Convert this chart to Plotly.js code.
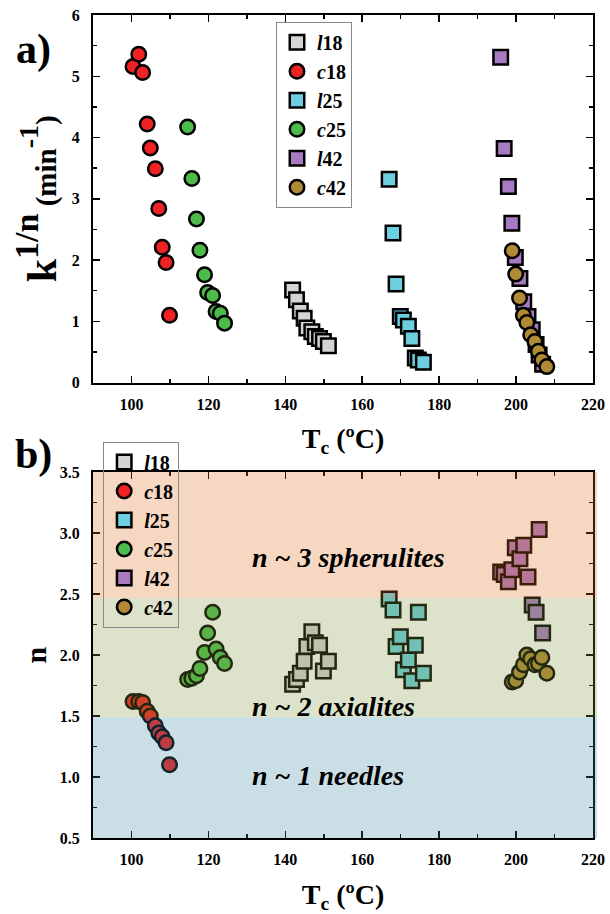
<!DOCTYPE html>
<html>
<head>
<meta charset="utf-8">
<script src="https://cdn.plot.ly/plotly-3.0.1.min.js"></script>
<style>html,body{margin:0;padding:0;background:#fff;}#chart{width:610px;height:914px;}</style>
</head>
<body>
<div id="chart"></div>
<script>
// ---- data ----
const seriesNames = ["<i>l</i>18", "<i>c</i>18", "<i>l</i>25", "<i>c</i>25", "<i>l</i>42", "<i>c</i>42"];

const l18_T = [141.9, 142.9, 143.9, 144.9, 145.6, 146.9, 147.8, 148.9, 149.9, 151.2];
const l18_k = [1.51, 1.35, 1.17, 1.05, 0.89, 0.83, 0.75, 0.72, 0.67, 0.60];
const l18_n = [1.76, 1.80, 1.85, 1.95, 2.07, 2.19, 2.10, 2.08, 1.87, 1.95];

const c18_T = [100.4, 101.9, 102.9, 104.1, 104.9, 106.2, 107.1, 108.0, 109.0, 109.9];
const c18_k = [5.16, 5.36, 5.06, 4.22, 3.83, 3.49, 2.84, 2.21, 1.96, 1.10];
const c18_n = [1.62, 1.62, 1.61, 1.54, 1.50, 1.42, 1.36, 1.33, 1.28, 1.10];

const l25_T = [167.0, 168.0, 168.8, 169.9, 170.7, 172.0, 172.9, 173.8, 174.6, 175.9];
const l25_k = [3.32, 2.44, 1.61, 1.08, 1.02, 0.92, 0.72, 0.40, 0.37, 0.33];
const l25_n = [2.46, 2.37, 2.07, 2.15, 1.88, 1.96, 1.79, 2.08, 2.35, 1.85];

const c25_T = [114.6, 115.7, 116.9, 117.8, 119.0, 119.8, 121.1, 122.0, 123.1, 124.2];
const c25_k = [4.17, 3.33, 2.67, 2.16, 1.76, 1.47, 1.42, 1.16, 1.13, 0.97];
const c25_n = [1.80, 1.81, 1.83, 1.89, 2.02, 2.18, 2.35, 2.05, 1.98, 1.93];

const l42_T = [196.0, 196.9, 198.0, 198.9, 199.8, 201.0, 202.0, 203.1, 204.2, 205.2, 206.0, 206.9];
const l42_k = [5.31, 3.82, 3.20, 2.60, 2.04, 1.70, 1.32, 1.08, 0.86, 0.62, 0.45, 0.30];
const l42_n = [2.68, 2.66, 2.60, 2.70, 2.88, 2.79, 2.90, 2.64, 2.41, 2.35, 3.03, 2.18];

const c42_T = [199.0, 199.9, 200.9, 201.9, 202.8, 203.8, 204.9, 205.8, 206.7, 208.0];
const c42_k = [2.15, 1.77, 1.38, 1.10, 0.98, 0.78, 0.67, 0.51, 0.37, 0.26];
const c42_n = [1.78, 1.79, 1.86, 1.92, 2.00, 1.97, 1.92, 1.93, 1.98, 1.85];

const regionLabels = ["<i>n ~ 3 spherulites</i>", "<i>n ~ 2 axialites</i>", "<i>n ~ 1 needles</i>"];
const regionLabelY = [2.80, 1.575, 1.01];
const regionBounds = [[2.467, 3.5], [1.49, 2.467], [0.5, 1.49]];

// ---- styles ----
const colors = ["#D4D4D4", "#EE2222", "#6CCFE0", "#4DBB4A", "#A77BC2", "#B08A35"];
const symbols = ["square", "circle", "square", "circle", "square", "circle"];
const regionColors = ["rgb(222,110,30)", "rgb(125,150,60)", "rgb(60,138,160)"];
const FONT = "Liberation Serif, Times New Roman, serif";

const Ts = [l18_T, c18_T, l25_T, c25_T, l42_T, c42_T];
const Ks = [l18_k, c18_k, l25_k, c25_k, l42_k, c42_k];
const Ns = [l18_n, c18_n, l25_n, c25_n, l42_n, c42_n];

const traces = [];
for (let i = 0; i < 6; i++) {
  traces.push({
    type: "scatter", mode: "markers", name: seriesNames[i],
    x: Ts[i], y: Ks[i], xaxis: "x2", yaxis: "y2", legend: "legend",
    marker: {symbol: symbols[i], size: 14.5, color: colors[i], line: {color: "#000", width: 2.5}}
  });
}
for (let i = 0; i < 6; i++) {
  traces.push({
    type: "scatter", mode: "markers", name: seriesNames[i],
    x: Ts[i], y: Ns[i], xaxis: "x", yaxis: "y", legend: "legend2",
    marker: {symbol: symbols[i], size: 14.5, color: colors[i], line: {color: "#000", width: 2.5}}
  });
}

const tickFont = {family: FONT, size: 16, color: "#000", weight: "bold"};
function xAxis(anchor, title) {
  return {
    anchor: anchor, range: [90, 220], dtick: 20, tick0: 100,
    ticks: "inside", ticklen: 7, tickwidth: 1.5, tickcolor: "#000",
    minor: {dtick: 10, ticks: "inside", ticklen: 4, tickwidth: 1.5, tickcolor: "#000"},
    showline: true, linecolor: "#000", linewidth: 2, mirror: "allticks",
    showgrid: false, zeroline: false, tickfont: tickFont, ticklabelstandoff: 6,
    title: {text: title, font: {family: FONT, size: 28, color: "#000", weight: "bold"}, standoff: 17}
  };
}

const shapes = [];
const annotations = [];
for (let i = 0; i < 3; i++) {
  shapes.push({type: "rect", xref: "x domain", yref: "y", x0: 0, x1: 1.008,
    y0: regionBounds[i][0], y1: regionBounds[i][1], fillcolor: regionColors[i],
    opacity: 0.27, line: {width: 0}, layer: "above"});
  annotations.push({xref: "x", yref: "y", x: 130.9, y: regionLabelY[i], xanchor: "left", yanchor: "middle",
    text: regionLabels[i], showarrow: false,
    font: {family: FONT, size: 28, color: "#000", weight: "bold"}});
}
annotations.push({xref: "paper", yref: "paper", x: -0.119, y: 0.9575, xanchor: "center", yanchor: "middle",
  text: "a)", showarrow: false, font: {family: FONT, size: 42, color: "#000", weight: "bold"}});
annotations.push({xref: "paper", yref: "paper", x: -0.119, y: 0.4656, xanchor: "center", yanchor: "middle",
  text: "b)", showarrow: false, font: {family: FONT, size: 42, color: "#000", weight: "bold"}});

const legendFont = {family: FONT, size: 20, color: "#000", weight: "bold"};

const layout = {
  width: 610, height: 914,
  margin: {l: 92.5, r: 17, t: 15, b: 75.7},
  paper_bgcolor: "#fff", plot_bgcolor: "rgba(0,0,0,0)",
  showlegend: true,
  xaxis: xAxis("y", "T<sub>c</sub> (ºC)"),
  xaxis2: xAxis("y2", "T<sub>c</sub> (ºC)"),
  yaxis: {
    domain: [0, 0.4446], anchor: "x", range: [0.5, 3.5], dtick: 0.5, tick0: 0.5, tickformat: ".1f",
    ticks: "inside", ticklen: 7, tickwidth: 1.5, tickcolor: "#000",
    minor: {dtick: 0.25, ticks: "inside", ticklen: 4, tickwidth: 1.5, tickcolor: "#000"},
    showline: true, linecolor: "#000", linewidth: 2, mirror: "allticks",
    showgrid: false, zeroline: false, tickfont: tickFont, ticklabelstandoff: 8,
    title: {text: "n", font: {family: FONT, size: 30, color: "#000", weight: "bold"}, standoff: 4}
  },
  yaxis2: {
    domain: [0.5534, 1], anchor: "x2", range: [0, 6], dtick: 1,
    ticks: "inside", ticklen: 7, tickwidth: 1.5, tickcolor: "#000",
    minor: {dtick: 0.5, ticks: "inside", ticklen: 4, tickwidth: 1.5, tickcolor: "#000"},
    showline: true, linecolor: "#000", linewidth: 2, mirror: "allticks",
    showgrid: false, zeroline: false, tickfont: tickFont, ticklabelstandoff: 8,
    title: {text: "k<sup><span style='font-size:34px'>1/n</span></sup><span style='font-size:29px'> (min</span><sup><span style='font-size:28px'>-1</span></sup><span style='font-size:29px'>)</span>",
      font: {family: FONT, size: 42, color: "#000", weight: "bold"}, standoff: 2}
  },
  legend: {x: 0.366, y: 0.9919, xanchor: "left", yanchor: "top", bgcolor: "#fff",
    bordercolor: "#888", borderwidth: 1, font: legendFont, tracegroupgap: 0},
  legend2: {x: 0.0204, y: 0.4817, xanchor: "left", yanchor: "top", bgcolor: "rgba(0,0,0,0)",
    bordercolor: "#888", borderwidth: 1, font: legendFont, tracegroupgap: 0},
  shapes: shapes,
  annotations: annotations
};

Plotly.newPlot("chart", traces, layout, {staticPlot: true, displayModeBar: false});
</script>
</body>
</html>
